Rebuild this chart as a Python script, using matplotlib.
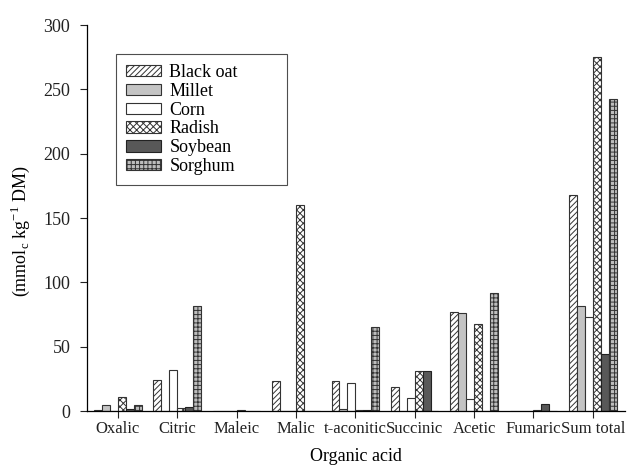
import numpy as np
import matplotlib
matplotlib.use("Agg")
import matplotlib.pyplot as plt

plt.rcParams.update({
    "font.family": ["Liberation Serif", "DejaVu Serif"],
    "font.size": 12,
    "hatch.linewidth": 0.7,
    "axes.linewidth": 0.9,
})

acids = ["Oxalic", "Citric", "Maleic", "Malic", "t-aconitic", "Succinic",
         "Acetic", "Fumaric", "Sum total"]
black_oat = [1.0, 24, 0, 23, 23, 19, 77, 0, 168]
millet = [4.5, 0, 0, 0, 1.5, 0, 76.5, 0, 82]
corn = [0, 32, 0, 0, 22, 10, 9, 0, 73]
radish = [11, 2, 0.8, 160, 0.5, 31, 67.5, 1, 275]
soybean = [1.5, 3.5, 0, 0, 1, 31.5, 0, 5.5, 44]
sorghum = [4.5, 82, 0, 0, 65, 0, 92, 0, 242.5]

series = [
    ("Black oat", black_oat, "white", "//////", "#333333"),
    ("Millet", millet, "#c4c4c4", "", "#333333"),
    ("Corn", corn, "white", "", "#333333"),
    ("Radish", radish, "white", "xxxxx", "#333333"),
    ("Soybean", soybean, "#585858", "", "#222222"),
    ("Sorghum", sorghum, "#bdbdbd", "++++", "#333333"),
]

fig = plt.figure(figsize=(6.35, 4.65), dpi=100)
ax = fig.add_axes([0.137, 0.116, 0.847, 0.830])

x = np.arange(len(acids))
w = 0.8 / len(series)
for k, (name, vals, fc, hatch, ec) in enumerate(series):
    ax.bar(x - 0.4 + w * (k + 0.5), vals, width=w, color=fc, hatch=hatch,
           edgecolor=ec, linewidth=0.8, label=name)

ax.set_xlim(-0.52, 8.54)
ax.set_ylim(0, 300)
ax.set_yticks(np.arange(0, 301, 50))
ax.set_xticks(x)
ax.set_xticklabels(acids)
ax.tick_params(axis="both", direction="out", length=5, width=0.8,
               colors="#222222")
ax.tick_params(axis="x", pad=2, labelsize=12)
ax.tick_params(axis="y", pad=7, labelsize=13)
for s in ["top", "right"]:
    ax.spines[s].set_visible(False)

ax.set_xlabel("Organic acid", fontsize=13, labelpad=8)
ax.set_ylabel(r"(mmol$_\mathregular{c}$ kg$^\mathregular{-1}$ DM)",
              fontsize=13)
ax.yaxis.set_label_coords(-0.103, 0.466)

leg = ax.legend(loc="upper left", bbox_to_anchor=(0.054, 0.825, 0.318, 0.1),
                mode="expand", borderaxespad=0,
                frameon=True, fancybox=False, edgecolor="#222222",
                handlelength=1.95, handleheight=0.6, labelspacing=0.1,
                borderpad=0.55, handletextpad=0.45, fontsize=13)
leg.get_frame().set_linewidth(0.8)

fig.savefig("out.png", dpi=100)
